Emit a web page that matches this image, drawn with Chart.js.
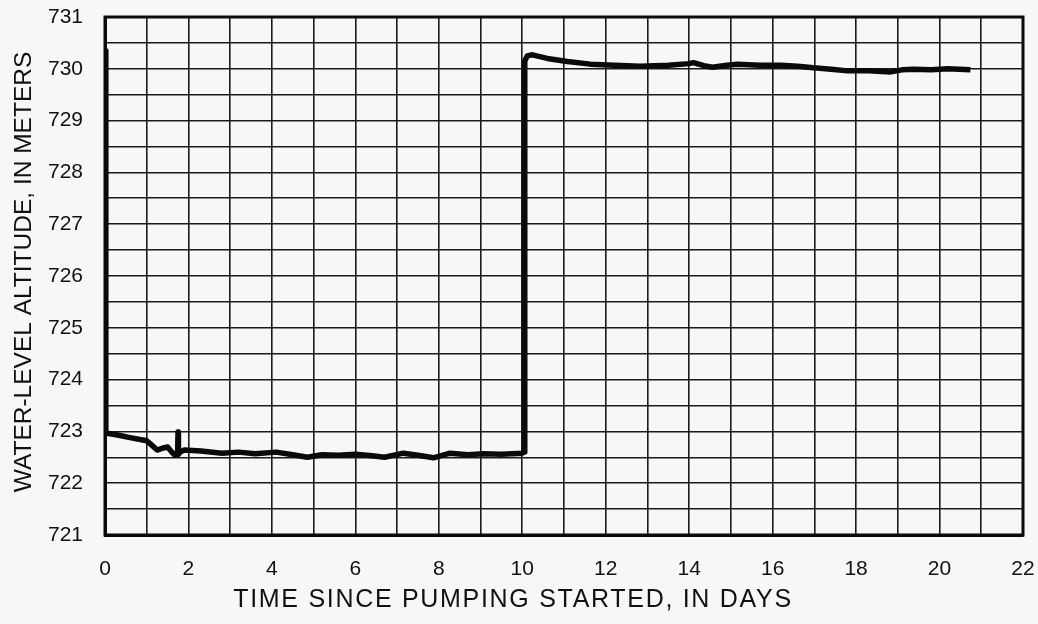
<!DOCTYPE html>
<html>
<head>
<meta charset="utf-8">
<script src="https://cdn.jsdelivr.net/npm/chart.js@4/dist/chart.umd.min.js"></script>
<style>
  html, body { margin: 0; padding: 0; background: #f6f7f6; }
  canvas { display: block; }
</style>
</head>
<body>
<canvas id="c" width="1038" height="624"></canvas>
<script>
// Time since pumping started, in days
const timeDays = [0, 0.02, 0.3, 0.6, 1.0, 1.1, 1.25, 1.4, 1.5, 1.6, 1.68, 1.74, 1.75, 1.76, 1.8, 1.9,
  2.3, 2.8, 3.2, 3.6, 4.1, 4.5, 4.85, 5.2, 5.6, 6.0, 6.4, 6.7, 7.15, 7.5, 7.87, 8.27, 8.7, 9.07, 9.5, 10.0,
  10.05, 10.06, 10.12, 10.24, 10.6, 11.08, 11.63, 12.2, 12.83, 13.5, 14.0, 14.1, 14.35, 14.56, 14.9,
  15.16, 15.7, 16.19, 16.6, 16.98, 17.4, 17.8, 18.3, 18.83, 19.1, 19.38, 19.8, 20.2, 20.74];
// Water-level altitude, in meters
const waterLevel = [730.35, 722.97, 722.93, 722.88, 722.82, 722.75, 722.64, 722.68, 722.7, 722.6, 722.54, 722.56, 722.99, 722.56, 722.6, 722.64,
  722.62, 722.58, 722.6, 722.57, 722.6, 722.55, 722.5, 722.55, 722.54, 722.56, 722.53, 722.5, 722.58, 722.54, 722.49, 722.58, 722.55, 722.57, 722.56, 722.58,
  722.6, 730.15, 730.25, 730.27, 730.2, 730.14, 730.09, 730.07, 730.05, 730.07, 730.1, 730.12, 730.06, 730.03, 730.07,
  730.09, 730.07, 730.07, 730.05, 730.02, 729.99, 729.96, 729.96, 729.94, 729.98, 729.99, 729.98, 730.0, 729.98];

const xTickLabels = [0, 2, 4, 6, 8, 10, 12, 14, 16, 18, 20, 22];
const yTickLabels = [721, 722, 723, 724, 725, 726, 727, 728, 729, 730, 731];
const xTitle = 'TIME SINCE PUMPING STARTED, IN DAYS';
const yTitle = 'WATER-LEVEL ALTITUDE, IN METERS';

const points = timeDays.map((t, i) => ({ x: t, y: waterLevel[i] }));
const FONT = "'Liberation Sans', Arial, Helvetica, sans-serif";

const axisTitles = {
  id: 'axisTitles',
  afterDraw(chart) {
    const { ctx } = chart;
    ctx.save();
    ctx.fillStyle = '#111';
    ctx.textAlign = 'center';
    ctx.textBaseline = 'middle';
    ctx.font = "25px " + FONT;
    if ('letterSpacing' in ctx) ctx.letterSpacing = '1.7px';
    ctx.fillText(xTitle, 513, 600);
    ctx.translate(24, 272);
    ctx.rotate(-Math.PI / 2);
    ctx.font = "24.5px " + FONT;
    if ('letterSpacing' in ctx) ctx.letterSpacing = '0px';
    ctx.fillText(yTitle, 0, 0);
    ctx.restore();
  }
};

function zeroPad(s) { s.paddingTop = 0; s.paddingBottom = 0; s.paddingLeft = 0; s.paddingRight = 0; }

new Chart(document.getElementById('c'), {
  type: 'scatter',
  data: {
    datasets: [{
      data: points,
      showLine: true,
      borderColor: '#0a0a0a',
      borderWidth: 5.5,
      pointRadius: 0,
      tension: 0,
      borderJoinStyle: 'round',
      borderCapStyle: 'butt'
    }]
  },
  options: {
    responsive: false,
    animation: false,
    layout: { padding: { left: 0, right: 15, top: 17, bottom: 0 } },
    plugins: {
      legend: { display: false },
      tooltip: { enabled: false },
      title: { display: false }
    },
    scales: {
      x: {
        type: 'linear',
        min: 0, max: 22,
        afterFit: (s) => { s.height = 89; zeroPad(s); },
        afterBuildTicks: (s) => { s.ticks = Array.from({ length: 23 }, (_, i) => ({ value: i })); },
        ticks: {
          autoSkip: false,
          maxRotation: 0,
          padding: 22,
          color: '#111',
          font: { family: FONT, size: 21 },
          callback: (v) => xTickLabels.includes(v) ? String(v) : ''
        },
        grid: { color: '#1a1a1a', lineWidth: 1.6, drawTicks: false },
        border: { color: '#0a0a0a', width: 3 }
      },
      y: {
        type: 'linear',
        min: 721, max: 731,
        afterFit: (s) => { s.width = 105; zeroPad(s); },
        afterBuildTicks: (s) => { s.ticks = Array.from({ length: 21 }, (_, i) => ({ value: 721 + i * 0.5 })); },
        ticks: {
          autoSkip: false,
          padding: 22,
          color: '#111',
          font: { family: FONT, size: 21 },
          callback: (v) => yTickLabels.includes(v) ? String(v) : ''
        },
        grid: { color: '#1a1a1a', lineWidth: 1.6, drawTicks: false },
        border: { color: '#0a0a0a', width: 3 }
      }
    }
  },
  plugins: [axisTitles, {
    id: 'frame',
    afterDraw(chart) {
      const { ctx, chartArea: a } = chart;
      ctx.save();
      ctx.strokeStyle = '#0a0a0a';
      ctx.lineWidth = 3;
      ctx.strokeRect(a.left, a.top, a.right - a.left, a.bottom - a.top);
      ctx.restore();
    }
  }]
});
</script>
</body>
</html>
